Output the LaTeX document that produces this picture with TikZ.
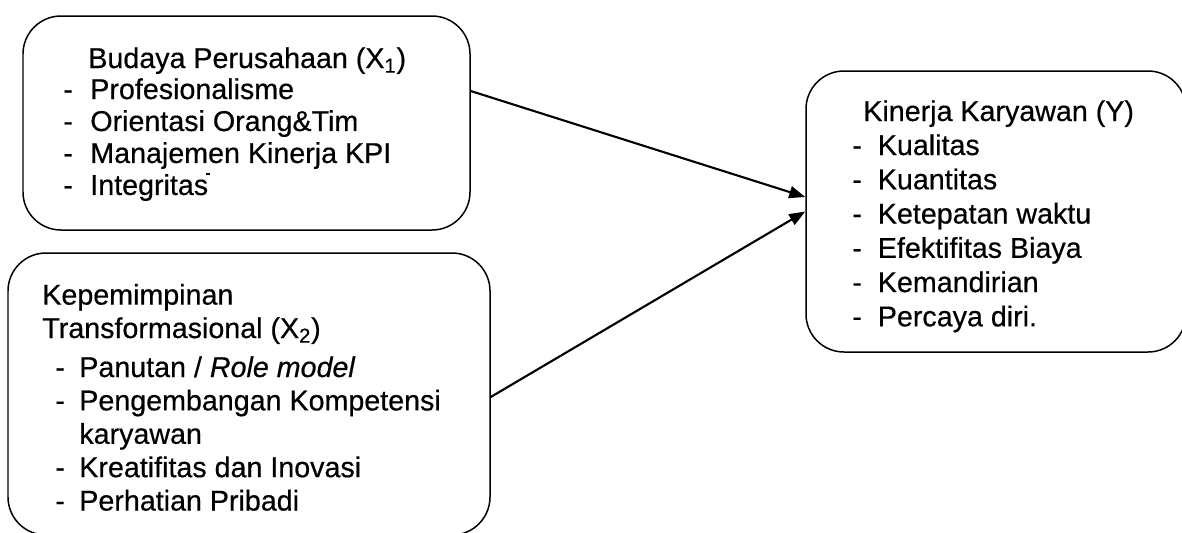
\documentclass[tikz,border=0pt]{standalone}
\usepackage{fontspec}
\setmainfont[FakeBold=0.5]{Liberation Sans}
\usepackage{tikz}
\usetikzlibrary{arrows.meta}

\begin{document}
\begin{tikzpicture}[
  varbox/.style={
    rectangle, rounded corners=0.76cm, draw=black, line width=0.85pt
  },
  boxtext/.style={inner sep=0pt, anchor=base west, align=left},
  bigfont/.style={font=\fontsize{16.3}{18.2}\selectfont},
  midfont/.style={font=\fontsize{16.3}{19.0}\selectfont},
  widefont/.style={font=\fontsize{16.3}{19.5}\selectfont},
  arrow/.style={-{Triangle[length=0.32cm, width=0.24cm]}, line width=1.2pt, black}
]

\useasboundingbox (0,0) rectangle (23.64,-10.64);

% === Variable boxes ===
\node[varbox, minimum width=8.94cm, minimum height=4.28cm] (bud) at (4.93,-2.46) {};
\node[varbox, minimum width=9.64cm, minimum height=5.64cm] (kep) at (4.98,-7.88) {};
\node[varbox, minimum width=7.6cm, minimum height=5.62cm] (kin) at (19.92,-4.23) {};

% === Budaya Perusahaan (X1) ===
\node[boxtext, bigfont] (budtitle) at (1.76,-1.36) {Budaya Perusahaan (X\textsubscript{1})};
\node[boxtext, bigfont] (buditems) at (1.26,-1.98) {%
  \begin{tabular}[t]{@{}p{0.54cm}@{}l@{}}
  - & Profesionalisme\\
  - & Orientasi Orang\&Tim\\
  - & Manajemen Kinerja KPI\\
  - & Integritas
  \end{tabular}};
\draw[line width=0.6pt] (4.12,-3.48) -- (4.2,-3.48);

% === Kepemimpinan Transformasional (X2) ===
% base anchor sits on the last line here
\node[boxtext, midfont] (keptitle) at (0.84,-6.76) {Kepemimpinan\\Transformasional (X\textsubscript{2})};
\node[boxtext, midfont] (kepitems) at (1.10,-7.54) {%
  \begin{tabular}[t]{@{}p{0.48cm}@{}l@{}}
  - & Panutan / \textit{Role model}\\
  - & Pengembangan Kompetensi\\
    & karyawan\\
  - & Kreatifitas dan Inovasi\\
  - & Perhatian Pribadi
  \end{tabular}};

% === Kinerja Karyawan (Y) ===
\node[boxtext, widefont] (kintitle) at (17.26,-2.42) {Kinerja Karyawan (Y)};
\node[boxtext, widefont] (kinitems) at (17.04,-3.10) {%
  \begin{tabular}[t]{@{}p{0.51cm}@{}l@{}}
  - & Kualitas\\
  - & Kuantitas\\
  - & Ketepatan waktu\\
  - & Efektifitas Biaya\\
  - & Kemandirian\\
  - & Percaya diri.
  \end{tabular}};

% === Influence arrows ===
\draw[arrow] ([yshift=0.64cm]bud.east) -- ([yshift=0.29cm]kin.west);
\draw[arrow] ([yshift=-0.06cm]kep.east) -- (kin.west);

\end{tikzpicture}
\end{document}
